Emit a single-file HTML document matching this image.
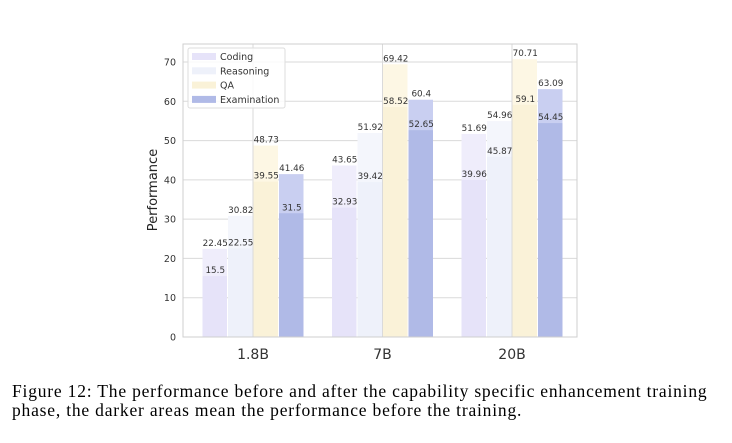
<!DOCTYPE html>
<html><head><meta charset="utf-8"><style>
body{margin:0;background:#fff;width:732px;height:443px;overflow:hidden}
svg text{font-family:"DejaVu Sans","Liberation Sans",sans-serif}
.cap{position:absolute;left:12px;top:382px;font-family:"Liberation Serif",serif;font-size:17.5px;letter-spacing:0.8px;line-height:19px;color:#000;width:725px;white-space:nowrap}
</style></head><body>
<svg id="chart" width="732" height="443" style="position:absolute;left:0;top:0"></svg>
<div class="cap">Figure 12: The performance before and after the capability specific enhancement training<br>phase, the darker areas mean the performance before the training.</div>
<script>
const categories=["1.8B","7B","20B"];
const seriesNames=["Coding","Reasoning","QA","Examination"];
const afterVals=[[22.45,43.65,51.69],[30.82,51.92,54.96],[48.73,69.42,70.71],[41.46,60.4,63.09]];
const beforeVals=[[15.5,32.93,39.96],[22.55,39.42,45.87],[39.55,58.52,59.1],[31.5,52.65,54.45]];
const yTicks=[0,10,20,30,40,50,60,70];
const lightCol=["#efedfb","#f4f6fc","#fdf7e4","#c9cff1"];
const darkCol=["#e6e3f9","#eef1fa","#faf2d8","#b0bae7"];
const NS="http://www.w3.org/2000/svg";
const svg=document.getElementById('chart');
const L=183,R=577,T=44,B=337;
function y(v){return B-v*(B-62)/70;}
function xc(i){return 253+i*129.5;}
const bw=25.5;
function mk(t,a,p){const e=document.createElementNS(NS,t);for(const k in a)e.setAttribute(k,a[k]);(p||svg).appendChild(e);return e;}
yTicks.forEach(t=>{
 const g=mk('line',{x1:L,x2:R,y1:y(t),y2:y(t),stroke:'#dadada','stroke-width':1});
 
 
 const tx=mk('text',{x:L-7,y:y(t)+3.5,'text-anchor':'end','font-size':9.5,fill:'#333'});tx.textContent=t;
 
 
});
categories.forEach((c,i)=>{
 const g=mk('line',{x1:xc(i),x2:xc(i),y1:T,y2:B,stroke:'#dadada','stroke-width':1});
 
 
 const tx=mk('text',{x:xc(i),y:B+22,'text-anchor':'middle','font-size':14,fill:'#333'});tx.textContent=c;
 
 
});
categories.forEach((c,i)=>{
 seriesNames.forEach((s,j)=>{
  const x0=xc(i)-2*bw+j*bw+0.5;
  const a=afterVals[j][i],b=beforeVals[j][i];
  const r1=mk('rect',{x:x0,y:y(a),width:bw-1,height:B-y(a),fill:lightCol[j]});
  
  
  const r2=mk('rect',{x:x0,y:y(b),width:bw-1,height:B-y(b),fill:darkCol[j]});
  
  
  [a,b].forEach(v=>{
   const tx=mk('text',{x:x0+bw/2,y:y(v)-3,'text-anchor':'middle','font-size':8.8,fill:'#333'});tx.textContent=v;
   
   
  });
 });
});
const fr=mk('rect',{x:L,y:T,width:R-L,height:B-T,fill:'none',stroke:'#cfcfcf','stroke-width':1});


const yl=mk('text',{x:0,y:0,transform:'translate(157,190) rotate(-90)','text-anchor':'middle','font-size':13,fill:'#222'});yl.textContent='Performance';


const lg=mk('g',{});


mk('rect',{x:188,y:48,width:97,height:60,fill:'#fff','fill-opacity':0.85,stroke:'#ddd',rx:2},lg);
seriesNames.forEach((s,j)=>{
 const r=mk('rect',{x:192,y:53+j*14.3,width:24,height:7,fill:darkCol[j]},lg);
 
 
 const t=mk('text',{x:220,y:60+j*14.3,'font-size':9.5,fill:'#333'},lg);t.textContent=s;
 
 
});
</script>
</body></html>
